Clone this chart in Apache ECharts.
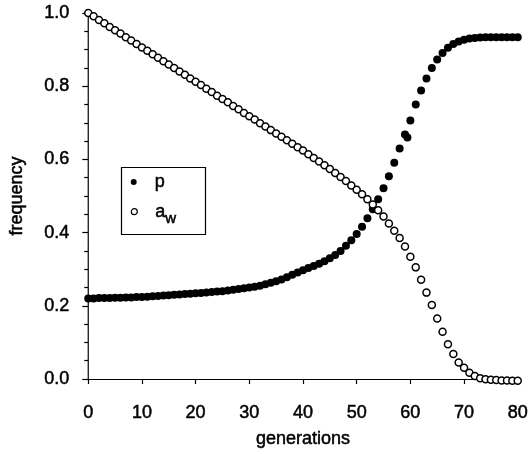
<!DOCTYPE html>
<html>
<head>
<meta charset="utf-8">
<script src="https://cdn.jsdelivr.net/npm/echarts@6/dist/echarts.min.js"></script>
<style>
  html, body { margin: 0; padding: 0; background: #fff; }
  #chart { width: 531px; height: 454px; }
</style>
</head>
<body>
<div id="chart"></div>
<script>
// generations 0..80
const gens = [
  0, 1, 2, 3, 4, 5, 6, 7, 8, 9,
  10, 11, 12, 13, 14, 15, 16, 17, 18, 19,
  20, 21, 22, 23, 24, 25, 26, 27, 28, 29,
  30, 31, 32, 33, 34, 35, 36, 37, 38, 39,
  40, 41, 42, 43, 44, 45, 46, 47, 48, 49,
  50, 51, 52, 53, 54, 55, 56, 57, 58, 59,
  60, 61, 62, 63, 64, 65, 66, 67, 68, 69,
  70, 71, 72, 73, 74, 75, 76, 77, 78, 79, 80
];

// p (filled dots)
const pValues = [
  0.220, 0.220, 0.221, 0.221, 0.221, 0.222, 0.222, 0.223, 0.223, 0.224,
  0.224, 0.225, 0.226, 0.227, 0.228, 0.229, 0.230, 0.231, 0.232, 0.233,
  0.234, 0.235, 0.236, 0.238, 0.239, 0.240, 0.242, 0.244, 0.246, 0.248,
  0.250, 0.252, 0.255, 0.259, 0.263, 0.267, 0.272, 0.278, 0.285, 0.291,
  0.297, 0.303, 0.309, 0.315, 0.322, 0.330, 0.339, 0.350, 0.364, 0.379,
  0.396, 0.416, 0.439, 0.464, 0.491, 0.521, 0.554, 0.591, 0.630, 0.668,
  0.706, 0.750, 0.788, 0.821, 0.850, 0.873, 0.891, 0.905, 0.915, 0.922,
  0.927, 0.930, 0.932, 0.933, 0.934, 0.934, 0.934, 0.934, 0.934, 0.934, 0.934
];
// the doubled dot near generation 59
const pExtra = [[59.45, 0.660]];

// a_w (open circles)
const awValues = [
  1.000, 0.991, 0.981, 0.972, 0.962, 0.953, 0.944, 0.934, 0.925, 0.915,
  0.906, 0.897, 0.887, 0.878, 0.868, 0.859, 0.850, 0.840, 0.831, 0.821,
  0.812, 0.803, 0.793, 0.784, 0.774, 0.765, 0.756, 0.746, 0.737, 0.727,
  0.718, 0.709, 0.699, 0.690, 0.680, 0.671, 0.662, 0.652, 0.643, 0.633,
  0.624, 0.614, 0.604, 0.594, 0.584, 0.574, 0.563, 0.552, 0.541, 0.529,
  0.517, 0.505, 0.491, 0.477, 0.461, 0.444, 0.425, 0.405, 0.385, 0.362,
  0.334, 0.305, 0.271, 0.236, 0.202, 0.165, 0.129, 0.095, 0.068, 0.045,
  0.031, 0.017, 0.008, 0.002, -0.001, -0.002, -0.003, -0.004, -0.004, -0.005, -0.005
];

const xTicks = [0, 10, 20, 30, 40, 50, 60, 70, 80];
const yTicks = [0.0, 0.2, 0.4, 0.6, 0.8, 1.0];

const font = 'Liberation Sans, Arial, Helvetica, sans-serif';
const ink = '#000';
// scanned type looks a bit heavier than plain regular
const heavy = { textBorderColor: ink, textBorderWidth: 0.5 };

const pData = gens.map((g, i) => [g, pValues[i]]).concat(pExtra);
const awData = gens.map((g, i) => [g, awValues[i]]);

const chart = echarts.init(document.getElementById('chart'), null, { renderer: 'canvas' });

chart.setOption({
  animation: false,
  backgroundColor: '#fff',
  textStyle: { fontFamily: font, color: ink },
  grid: { left: 87, right: 12, top: 13, bottom: 75, containLabel: false },
  xAxis: {
    type: 'value',
    min: xTicks[0],
    max: xTicks[xTicks.length - 1],
    interval: xTicks[1] - xTicks[0],
    name: 'generations',
    nameLocation: 'middle',
    nameGap: 51,
    nameTextStyle: Object.assign({ fontSize: 18, color: ink, fontFamily: font }, heavy),
    axisLine: { lineStyle: { color: ink, width: 1.2 } },
    axisTick: { length: 5, lineStyle: { color: ink, width: 1.2 } },
    axisLabel: Object.assign({ margin: 25, fontSize: 18, color: ink, fontFamily: font }, heavy),
    splitLine: { show: false }
  },
  yAxis: {
    type: 'value',
    min: yTicks[0],
    max: yTicks[yTicks.length - 1],
    interval: yTicks[1] - yTicks[0],
    name: 'frequency',
    nameLocation: 'middle',
    nameGap: 62,
    nameTextStyle: Object.assign({ fontSize: 18, color: ink, fontFamily: font }, heavy),
    axisLine: { show: true, lineStyle: { color: ink, width: 1.2 } },
    axisTick: { show: true, length: 6, lineStyle: { color: ink, width: 1.2 } },
    minorTick: { show: true, splitNumber: 4, length: 4, lineStyle: { color: ink, width: 1.2 } },
    axisLabel: Object.assign({
      margin: 19, fontSize: 18, color: ink, fontFamily: font,
      formatter: v => v.toFixed(1)
    }, heavy),
    splitLine: { show: false }
  },
  legend: [
    {
      data: [{ name: 'p', icon: 'circle', itemStyle: { color: ink, borderWidth: 0 } }],
      left: 130.7,
      top: 172.7,
      padding: 0,
      itemWidth: 32,
      itemHeight: 6,
      selectedMode: false,
      textStyle: Object.assign({ fontSize: 18, lineHeight: 18, color: ink, fontFamily: font }, heavy)
    },
    {
      data: [{ name: 'aw', icon: 'circle', itemStyle: { color: '#fff', borderColor: ink, borderWidth: 1.2 } }],
      left: 130.7,
      top: 197.2,
      padding: 0,
      itemWidth: 32,
      itemHeight: 6,
      selectedMode: false,
      formatter: () => '{a|a}{w|w}',
      textStyle: {
        color: ink,
        fontFamily: font,
        rich: {
          a: Object.assign({ fontSize: 18, lineHeight: 18, verticalAlign: 'middle', fontFamily: font, color: ink }, heavy),
          w: Object.assign({ fontSize: 15, lineHeight: 15, padding: [14, 0, 0, 0], verticalAlign: 'middle', fontFamily: font, color: ink }, heavy)
        }
      }
    }
  ],
  graphic: [
    {
      type: 'rect',
      shape: { x: 121.5, y: 167.5, width: 84, height: 67 },
      style: { fill: 'none', stroke: ink, lineWidth: 1.2 },
      z: 10
    }
  ],
  series: [
    {
      name: 'p',
      type: 'scatter',
      data: pData,
      symbol: 'circle',
      symbolSize: 8,
      clip: false,
      itemStyle: { color: ink, opacity: 1 },
      z: 2
    },
    {
      name: 'aw',
      type: 'scatter',
      data: awData,
      symbol: 'circle',
      symbolSize: 7,
      clip: false,
      itemStyle: { color: '#fff', borderColor: ink, borderWidth: 1.5, opacity: 1 },
      z: 3
    }
  ]
});
</script>
</body>
</html>
